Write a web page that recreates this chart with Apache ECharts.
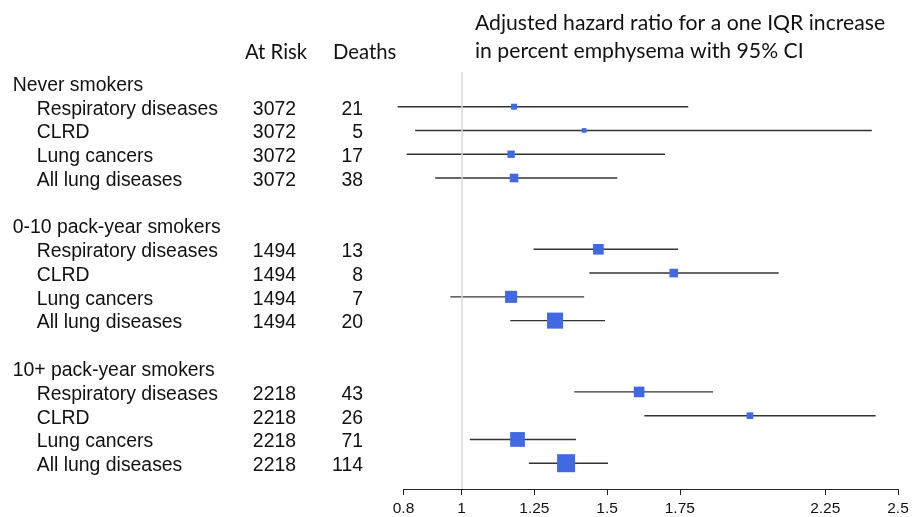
<!DOCTYPE html>
<html>
<head>
<meta charset="utf-8">
<script src="https://cdn.jsdelivr.net/npm/echarts@6/dist/echarts.min.js"></script>
<style>
  html, body { margin: 0; padding: 0; background: #fff; }
  #chart { width: 922px; height: 517px; }
</style>
</head>
<body>
<div id="chart"></div>
<script>
// ---- data ----
const groups = ['Never smokers', '0-10 pack-year smokers', '10+ pack-year smokers'];
const outcomes = ['Respiratory diseases', 'CLRD', 'Lung cancers', 'All lung diseases'];
const atRisk = [3072, 1494, 2218];
const deaths = [[21, 5, 17, 38], [13, 8, 7, 20], [43, 26, 71, 114]];
const hr = [[1.180, 1.421, 1.170, 1.180], [1.470, 1.729, 1.170, 1.321], [1.610, 1.991, 1.192, 1.359]];
const ciLow = [[0.780, 0.840, 0.811, 0.909], [1.247, 1.439, 0.961, 1.167], [1.387, 1.628, 1.028, 1.231]];
const ciHigh = [[1.779, 2.410, 1.699, 1.535], [1.744, 2.090, 1.421, 1.493], [1.864, 2.423, 1.393, 1.503]];
const weight = [[0.33, 0.26, 0.41, 0.48], [0.59, 0.48, 0.67, 0.89], [0.59, 0.37, 0.82, 1.0]];
const xTicks = [0.8, 1, 1.25, 1.5, 1.75, 2.25, 2.5];
const titleText = 'Adjusted hazard ratio for a one IQR increase\nin percent emphysema with 95% CI';

// ---- build rows ----
const rows = [];
const ciData = [];
const ptData = [];
groups.forEach((g, gi) => {
  rows.push('{h|' + g + '}');
  outcomes.forEach((o, oi) => {
    const r = rows.length;
    rows.push('{n|' + o + '}{r|' + atRisk[gi] + '}{d|' + deaths[gi][oi] + '}');
    ciData.push([ciLow[gi][oi], ciHigh[gi][oi], r]);
    ptData.push([hr[gi][oi], r, weight[gi][oi]]);
  });
  if (gi < groups.length - 1) rows.push('');
});
const rowIdx = rows.map((_, i) => i);

const TXT = '#111';
const SANS = 'Liberation Sans, Arial, sans-serif';
const CAL = 'Lato, Open Sans, sans-serif';
const BOX = 18;
const FS = 19.4;

const chart = echarts.init(document.getElementById('chart'), null, { renderer: 'canvas' });
chart.setOption({
  animation: false,
  backgroundColor: '#fff',
  title: [
    { text: titleText, left: 475, top: 9, padding: 0,
      textStyle: { fontFamily: CAL, fontSize: 21.2, fontWeight: 'normal', color: TXT, lineHeight: 28 } },
    { text: 'At Risk', left: 245, top: 40, padding: 0,
      textStyle: { fontFamily: CAL, fontSize: 20.3, fontWeight: 'normal', color: TXT, lineHeight: 24 } },
    { text: 'Deaths', left: 333, top: 40, padding: 0,
      textStyle: { fontFamily: CAL, fontSize: 20.3, fontWeight: 'normal', color: TXT, lineHeight: 24 } }
  ],
  grid: { left: 403.5, right: 24, top: 72, bottom: 28, containLabel: false },
  xAxis: {
    type: 'value', min: 0.8, max: 2.5, position: 'bottom',
    axisLine: { show: true, onZero: false, lineStyle: { color: '#222', width: 1 } },
    axisTick: { show: true, customValues: xTicks, length: 6, lineStyle: { color: '#222', width: 1 } },
    axisLabel: { customValues: xTicks, formatter: v => String(v), fontFamily: SANS, fontSize: 15.5, color: TXT, margin: 12 },
    splitLine: { show: false }
  },
  yAxis: {
    type: 'value', inverse: true, min: -0.46, max: 17.085,
    axisLine: { show: false }, axisTick: { show: false }, splitLine: { show: false },
    axisLabel: {
      customValues: rowIdx,
      formatter: (v) => rows[Math.round(v)] || '',
      margin: 40.5,
      padding: [5, 0, 0, 0],
      rich: {
        h: { width: 350.3, align: 'left', fontFamily: SANS, fontSize: FS, color: TXT },
        n: { width: 216.5, align: 'left', fontFamily: SANS, fontSize: FS, color: TXT },
        r: { width: 42.7, align: 'right', fontFamily: SANS, fontSize: FS, color: TXT },
        d: { width: 67, align: 'right', fontFamily: SANS, fontSize: FS, color: TXT }
      }
    }
  },
  series: [
    {
      type: 'custom',
      data: ciData,
      encode: { x: [0, 1], y: 2 },
      z: 2,
      renderItem: (params, api) => {
        const p1 = api.coord([api.value(0), api.value(2)]);
        const p2 = api.coord([api.value(1), api.value(2)]);
        return { type: 'line', shape: { x1: p1[0], y1: p1[1], x2: p2[0], y2: p2[1] },
                 style: { stroke: '#333', lineWidth: 1.4 } };
      },
      markLine: {
        silent: true, symbol: 'none', label: { show: false },
        lineStyle: { color: '#d8d8d8', width: 1.5, type: 'solid' },
        data: [{ xAxis: 1 }]
      }
    },
    {
      type: 'scatter',
      data: ptData,
      symbol: 'rect',
      symbolSize: v => v[2] * BOX,
      itemStyle: { color: '#4169E1', opacity: 1 },
      z: 3
    }
  ]
});
</script>
</body>
</html>
